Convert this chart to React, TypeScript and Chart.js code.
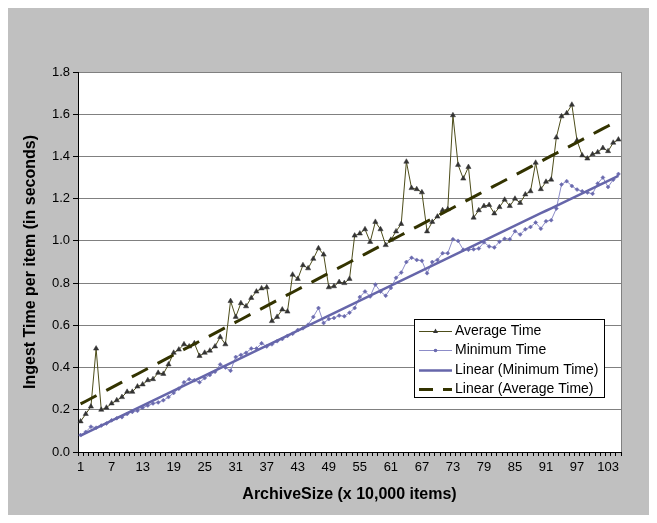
import React, { useEffect, useRef } from "react";
import { Chart, registerables } from "chart.js";
Chart.register(...registerables);

const categories: string[] = Array.from({ length: 105 }, (_, i) => String(i + 1));

const avgTime = [
  0.145, 0.18, 0.215, 0.49, 0.2, 0.21, 0.23, 0.245, 0.26, 0.285,
  0.285, 0.31, 0.32, 0.34, 0.345, 0.375, 0.37, 0.415, 0.47, 0.485,
  0.51, 0.5, 0.515, 0.455, 0.47, 0.48, 0.5, 0.545, 0.51, 0.715,
  0.64, 0.705, 0.69, 0.73, 0.76, 0.775, 0.78, 0.62, 0.64, 0.675,
  0.665, 0.84, 0.82, 0.885, 0.87, 0.915, 0.965, 0.935, 0.78, 0.785,
  0.805, 0.8, 0.82, 1.025, 1.035, 1.055, 0.995, 1.09, 1.055, 0.98,
  1.005, 1.045, 1.08, 1.375, 1.25, 1.245, 1.23, 1.045, 1.09, 1.115,
  1.145, 1.15, 1.595, 1.36, 1.295, 1.35, 1.11, 1.145, 1.165, 1.17,
  1.13, 1.16, 1.195, 1.165, 1.2, 1.18, 1.22, 1.235, 1.37, 1.245,
  1.28, 1.29, 1.49, 1.59, 1.605, 1.645, 1.475, 1.405, 1.39, 1.41,
  1.42, 1.44, 1.425, 1.465, 1.48,
];

const minTime = [
  0.08, 0.095, 0.12, 0.115, 0.125, 0.135, 0.15, 0.16, 0.165, 0.18,
  0.19, 0.195, 0.21, 0.22, 0.23, 0.235, 0.245, 0.26, 0.28, 0.3,
  0.33, 0.345, 0.34, 0.33, 0.35, 0.365, 0.38, 0.415, 0.4, 0.385,
  0.45, 0.46, 0.47, 0.49, 0.49, 0.515, 0.5, 0.51, 0.525, 0.535,
  0.55, 0.56, 0.578, 0.586, 0.603, 0.64, 0.682, 0.611, 0.63, 0.635,
  0.646, 0.643, 0.66, 0.682, 0.734, 0.76, 0.737, 0.793, 0.76, 0.74,
  0.777, 0.825, 0.85, 0.9, 0.92, 0.91, 0.906, 0.847, 0.9, 0.91,
  0.942, 0.942, 1.008, 1.0, 0.958, 0.958, 0.96, 0.964, 0.993, 0.974,
  0.969, 0.996, 1.01, 1.008, 1.046, 1.03, 1.055, 1.066, 1.087, 1.058,
  1.093, 1.098, 1.153, 1.267, 1.283, 1.26, 1.243, 1.235, 1.229, 1.223,
  1.272, 1.3, 1.255, 1.29, 1.317,
];

const seriesNames = ["Average Time", "Minimum Time", "Linear (Minimum Time)", "Linear (Average Time)"];
const yMin = 0;
const yMax = 1.8;
const yStep = 0.2;
const xLabelEvery = 6;

function linearFit(values: number[]): number[] {
  const n = values.length;
  let sx = 0, sy = 0, sxx = 0, sxy = 0;
  for (let i = 0; i < n; i++) {
    const x = i + 1;
    sx += x; sy += values[i]; sxx += x * x; sxy += x * values[i];
  }
  const b = (n * sxy - sx * sy) / (n * sxx - sx * sx);
  const a = (sy - b * sx) / n;
  return values.map((_, i) => a + b * (i + 1));
}

const FONT = "Arial, 'Liberation Sans', sans-serif";

const COL_AVG_LINE = "#4d4d1a";
const COL_AVG_PT = "#333333";
const COL_MIN_LINE = "#8c8cc8";
const COL_MIN_PT = "#6a6aae";
const COL_TREND_MIN = "#6666aa";
const COL_TREND_AVG = "#333300";

const plotBgPlugin = {
  id: "plotBg",
  beforeDraw(chart: any) {
    const { ctx, chartArea: a } = chart;
    ctx.save();
    ctx.fillStyle = "#ffffff";
    ctx.fillRect(a.left, a.top, a.right - a.left, a.bottom - a.top);
    ctx.strokeStyle = "#808080";
    ctx.lineWidth = 1;
    ctx.beginPath();
    ctx.moveTo(Math.round(a.right) + 0.5, a.top);
    ctx.lineTo(Math.round(a.right) + 0.5, a.bottom);
    ctx.stroke();
    ctx.restore();
  },
};

const legendPlugin = {
  id: "customLegend",
  afterDraw(chart: any) {
    const { ctx } = chart;
    const bx = 406, by = 311, bw = 190, bh = 78;
    ctx.save();
    ctx.fillStyle = "#ffffff";
    ctx.fillRect(bx, by, bw, bh);
    ctx.strokeStyle = "#000000";
    ctx.lineWidth = 1;
    ctx.strokeRect(bx + 0.5, by + 0.5, bw, bh);
    const x0 = 411, x1 = 444, tx = 447;
    ctx.font = `14px ${FONT}`;
    ctx.textBaseline = "middle";
    seriesNames.forEach((name, i) => {
      const y = Math.round(322.5 + i * 19.5) + 0.5;
      ctx.save();
      if (i === 0) {
        ctx.strokeStyle = COL_AVG_LINE; ctx.lineWidth = 1;
        ctx.beginPath(); ctx.moveTo(x0, y); ctx.lineTo(x1, y); ctx.stroke();
        ctx.fillStyle = COL_AVG_PT;
        const cx = (x0 + x1) / 2;
        ctx.beginPath(); ctx.moveTo(cx, y - 3); ctx.lineTo(cx + 2.5, y + 1.5); ctx.lineTo(cx - 2.5, y + 1.5); ctx.closePath(); ctx.fill();
      } else if (i === 1) {
        ctx.strokeStyle = COL_MIN_LINE; ctx.lineWidth = 1;
        ctx.beginPath(); ctx.moveTo(x0, y); ctx.lineTo(x1, y); ctx.stroke();
        ctx.fillStyle = COL_MIN_PT;
        ctx.beginPath(); ctx.arc((x0 + x1) / 2, y, 1.8, 0, Math.PI * 2); ctx.fill();
      } else if (i === 2) {
        ctx.strokeStyle = COL_TREND_MIN; ctx.lineWidth = 2.5;
        ctx.beginPath(); ctx.moveTo(x0, y); ctx.lineTo(x1, y); ctx.stroke();
      } else {
        ctx.strokeStyle = COL_TREND_AVG; ctx.lineWidth = 3;
        ctx.setLineDash([14, 10]);
        ctx.beginPath(); ctx.moveTo(x0, y); ctx.lineTo(x1, y); ctx.stroke();
      }
      ctx.restore();
      ctx.fillStyle = "#000000";
      ctx.fillText(name, tx, y);
    });
    ctx.restore();
  },
};

export default function App() {
  const ref = useRef<HTMLCanvasElement | null>(null);
  useEffect(() => {
    if (!ref.current) return;
    const trendMin = linearFit(minTime);
    const trendAvg = linearFit(avgTime);
    const chart = new Chart(ref.current, {
      type: "line",
      data: {
        labels: categories,
        datasets: [
          {
            label: seriesNames[2],
            data: trendMin,
            borderColor: COL_TREND_MIN,
            borderWidth: 2.5,
            pointRadius: 0,
            fill: false,
          },
          {
            label: seriesNames[3],
            data: trendAvg,
            borderColor: COL_TREND_AVG,
            borderWidth: 3,
            borderDash: [18, 11],
            pointRadius: 0,
            fill: false,
          },
          {
            label: seriesNames[0],
            data: avgTime,
            borderColor: COL_AVG_LINE,
            borderWidth: 1,
            pointStyle: "triangle",
            pointRadius: 3,
            pointBackgroundColor: COL_AVG_PT,
            pointBorderColor: COL_AVG_PT,
            pointBorderWidth: 0.5,
            tension: 0,
            fill: false,
          },
          {
            label: seriesNames[1],
            data: minTime,
            borderColor: COL_MIN_LINE,
            borderWidth: 1,
            pointStyle: "rectRot",
            pointRadius: 2,
            pointBackgroundColor: COL_MIN_PT,
            pointBorderColor: COL_MIN_PT,
            pointBorderWidth: 0.5,
            tension: 0,
            fill: false,
          },
        ],
      },
      options: {
        animation: false,
        responsive: false,
        maintainAspectRatio: false,
        layout: { padding: { left: 10, right: 28, top: 64, bottom: 7 } },
        plugins: { legend: { display: false }, tooltip: { enabled: false } },
        scales: {
          x: {
            type: "category",
            offset: true,
            afterFit: (s: any) => { s.height = 56; },
            grid: {
              offset: true,
              drawOnChartArea: false,
              drawTicks: true,
              tickLength: 4,
              color: "#000000",
            },
            border: { display: true, color: "#000000", width: 1 },
            ticks: {
              autoSkip: false,
              maxRotation: 0,
              minRotation: 0,
              padding: 4,
              color: "#000000",
              font: { family: FONT, size: 13 },
              callback: (_v: any, i: number) => (i % xLabelEvery === 0 ? categories[i] : ""),
            },
            title: {
              display: true,
              text: "ArchiveSize (x 10,000 items)",
              color: "#000000",
              font: { family: FONT, size: 16, weight: "bold" },
              padding: { top: 0, bottom: 4 },
            },
          },
          y: {
            min: yMin,
            max: yMax,
            afterFit: (s: any) => { s.width = 60; },
            grid: {
              color: "#808080",
              tickColor: "#000000",
              tickLength: 5,
              lineWidth: 1,
            },
            border: { display: true, color: "#000000", width: 1 },
            ticks: {
              stepSize: yStep,
              padding: 3,
              color: "#000000",
              font: { family: FONT, size: 13 },
              callback: (v: any) => Number(v).toFixed(1),
            },
            title: {
              display: true,
              text: "Ingest Time per item (in seconds)",
              color: "#000000",
              font: { family: FONT, size: 16, weight: "bold" },
              padding: { top: 3, bottom: 0 },
            },
          },
        },
      },
      plugins: [plotBgPlugin, legendPlugin],
    });
    return () => chart.destroy();
  }, []);
  return (
    <div style={{ width: 641, height: 507, background: "#c0c0c0" }}>
      <canvas ref={ref} width={641} height={507} style={{ display: "block" }} />
    </div>
  );
}
